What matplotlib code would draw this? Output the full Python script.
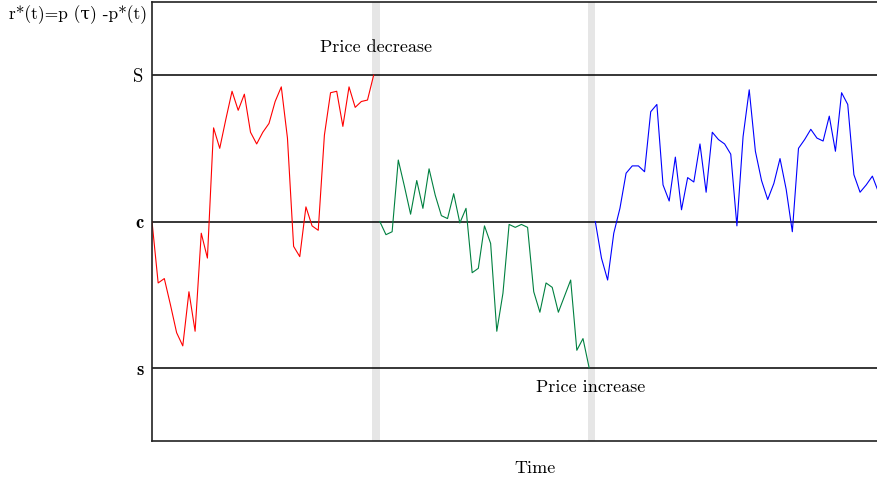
import matplotlib
matplotlib.use('Agg')
import matplotlib.pyplot as plt
import numpy as np

plt.rcParams['font.family'] = ['cmr10', 'DejaVu Serif']
plt.rcParams['mathtext.fontset'] = 'cm'
plt.rcParams['axes.formatter.use_mathtext'] = True

# Levels: s (lower), c (target), S (upper)
levels = [-1.0, 0.0, 1.0]
level_labels = ['s', 'c', 'S']

# Regime 1: price decrease (red)
red_t0 = 0
red_vals = [0.00, -0.42, -0.39, -0.57, -0.76, -0.85, -0.48, -0.75, -0.08, -0.25,
            0.64, 0.50, 0.70, 0.89, 0.76, 0.87, 0.61, 0.53, 0.61, 0.67,
            0.82, 0.92, 0.57, -0.17, -0.24, 0.10, -0.03, -0.06, 0.59, 0.88,
            0.89, 0.65, 0.92, 0.78, 0.82, 0.83, 1.00]

# Regime 2: price increase (green)
green_t0 = 37
green_vals = [0.00, -0.09, -0.07, 0.42, 0.24, 0.05, 0.28, 0.09, 0.36, 0.18,
              0.04, 0.02, 0.19, -0.01, 0.09, -0.35, -0.32, -0.03, -0.15, -0.75,
              -0.49, -0.02, -0.04, -0.02, -0.04, -0.48, -0.62, -0.42, -0.45, -0.62,
              -0.51, -0.40, -0.88, -0.80, -1.00]

# Regime 3 (blue)
blue_t0 = 72
blue_vals = [0.00, -0.25, -0.40, -0.08, 0.09, 0.33, 0.38, 0.38, 0.34, 0.75,
             0.80, 0.25, 0.14, 0.44, 0.08, 0.30, 0.27, 0.53, 0.20, 0.61,
             0.56, 0.53, 0.46, -0.03, 0.58, 0.90, 0.48, 0.28, 0.15, 0.26,
             0.43, 0.22, -0.07, 0.50, 0.56, 0.63, 0.57, 0.55, 0.72, 0.48,
             0.88, 0.80, 0.32, 0.20, 0.25, 0.31, 0.20]

# Regime switch times
switch_times = [36.4, 71.4]

fig = plt.figure(figsize=(8.78, 4.8), dpi=100)
ax = fig.add_axes([152/878, 1 - 441/480, 1 - 152/878 + 0.002, (441 - 2)/480])

for ts in switch_times:
    ax.axvspan(ts - 0.6, ts + 0.6, color='#e6e6e6', lw=0, zorder=0)

for lv in levels:
    ax.axhline(lv, color='black', lw=1.1, zorder=1)

ax.plot(red_t0 + np.arange(len(red_vals)), red_vals, color='#ff0000', lw=0.8, zorder=2)
ax.plot(green_t0 + np.arange(len(green_vals)), green_vals, color='#008040', lw=0.8, zorder=2)
ax.plot(blue_t0 + np.arange(len(blue_vals)), blue_vals, color='#0000ff', lw=0.8, zorder=2)

ax.set_xlim(0, 118.2)
ax.set_ylim(-1.5, 1.5)

ax.set_yticks(levels)
ax.set_yticklabels(level_labels, fontsize=13.5)
for lab in ax.get_yticklabels():
    if lab.get_text() in ('s', 'c'):
        lab.set_family('cmb10')
ax.tick_params(axis='y', length=0, pad=6)
ax.set_xticks([])

for side in ['left', 'bottom', 'top']:
    ax.spines[side].set_color('#222222')
    ax.spines[side].set_linewidth(1.2)
ax.spines['right'].set_visible(False)

ax.text(36.4, 1.19, 'Price decrease', ha='center', va='center', fontsize=13)
ax.text(71.3, -1.13, 'Price increase', ha='center', va='center', fontsize=13)

fig.text(535/878, 1 - 468/480, 'Time', ha='center', va='center', fontsize=13)
fig.text(147/878, 1 - 15/480, 'r*(t)=p (τ) -p*(t)', ha='right', va='center', fontsize=12.5)

fig.savefig('out.png', dpi=100, facecolor='white')
